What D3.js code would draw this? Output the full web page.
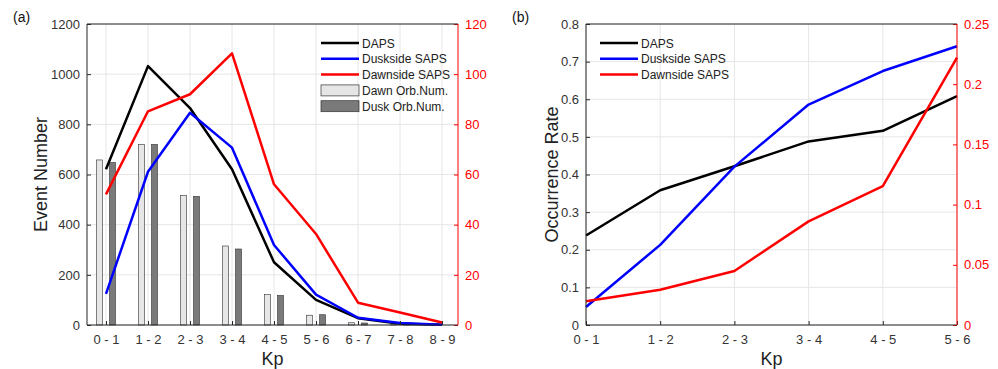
<!DOCTYPE html>
<html><head><meta charset="utf-8">
<script src="https://cdn.jsdelivr.net/npm/d3@7"></script>
<style>body{margin:0;background:#fff}svg{display:block}text{font-family:"Liberation Sans",Arial,sans-serif}</style>
</head><body>
<svg id="c" width="998" height="369"></svg>
<script>
const catsA = ["0 - 1","1 - 2","2 - 3","3 - 4","4 - 5","5 - 6","6 - 7","7 - 8","8 - 9"];
const dapsA = [621,1032,865,621,250,100,27,5,1];
const duskA = [124,611,846,707,319,121,29,8,1];
const dawnA = [52.1,85.2,92,108.3,56.1,36.3,8.9,5,1];
const dawnOrb = [658,720,517,315,121,39,9,1,0];
const duskOrb = [648,720,513,303,118,41,8,1,0];
const leftTicksA = [0,200,400,600,800,1000,1200];
const rightTicksA = [0,20,40,60,80,100,120];

const catsB = ["0 - 1","1 - 2","2 - 3","3 - 4","4 - 5","5 - 6"];
const dapsB = [0.238,0.358,0.422,0.488,0.516,0.608];
const duskB = [0.048,0.213,0.421,0.586,0.675,0.741];
const dawnB = [0.0197,0.0293,0.0449,0.0861,0.1154,0.222];
const leftTicksB = [0,0.1,0.2,0.3,0.4,0.5,0.6,0.7,0.8];
const rightTicksB = [0,0.05,0.1,0.15,0.2,0.25];

const svg = d3.select("#c");
const axisCol = "#262626", red = "#ff0000", grid = "#e6e6e6";
const yTop = 24, yBot = 325;

function panel(o){
  const g = svg.append("g");
  const x = d3.scaleLinear().domain(o.xdom).range([o.x0,o.x1]);
  const yL = d3.scaleLinear().domain([0,o.lmax]).range([yBot,yTop]);
  const yR = d3.scaleLinear().domain([0,o.rmax]).range([yBot,yTop]);
  g.selectAll(null).data(o.lt).join("line").attr("x1",o.x0).attr("x2",o.x1)
    .attr("y1",d=>yL(d)).attr("y2",d=>yL(d)).attr("stroke",grid).attr("stroke-width",1);
  g.selectAll(null).data(o.cats).join("line").attr("x1",(d,i)=>x(i)).attr("x2",(d,i)=>x(i))
    .attr("y1",yTop).attr("y2",yBot).attr("stroke",grid).attr("stroke-width",1);
  if (o.bars){
    const bw = 6, off = 6.5;
    o.bars.forEach((b,k)=>{
      g.selectAll(null).data(b.v).join("rect")
        .attr("x",(d,i)=>x(i)+(k===0?-off:off)-bw/2).attr("width",bw)
        .attr("y",d=>yL(d)).attr("height",d=>yBot-yL(d))
        .attr("fill",b.fill).attr("stroke",d=>d>0?"#333":"none").attr("stroke-width",0.6);
    });
  }
  const lineL = d3.line().x((d,i)=>x(i)).y(d=>yL(d));
  const lineR = d3.line().x((d,i)=>x(i)).y(d=>yR(d));
  o.lines.forEach(l=>{
    g.append("path").attr("d",(l.right?lineR:lineL)(l.v)).attr("fill","none")
      .attr("stroke",l.c).attr("stroke-width",2.5).attr("stroke-linejoin","round");
  });
  const ax = g.append("g").attr("transform",`translate(0,${yBot})`)
    .call(d3.axisBottom(x).tickValues(d3.range(o.cats.length)).tickFormat(i=>o.cats[i]).tickSizeInner(-4).tickSizeOuter(0).tickPadding(10));
  const al = g.append("g").attr("transform",`translate(${o.x0},0)`)
    .call(d3.axisLeft(yL).tickValues(o.lt).tickFormat(o.lf).tickSizeInner(-4).tickSizeOuter(0).tickPadding(7));
  const ar = g.append("g").attr("transform",`translate(${o.x1},0)`)
    .call(d3.axisRight(yR).tickValues(o.rt).tickFormat(o.rf).tickSizeInner(-4).tickSizeOuter(0).tickPadding(7));
  [ax,al].forEach(a=>{a.selectAll("path,line").attr("stroke",axisCol);a.selectAll("text").attr("fill","#333").style("font-size","13px");});
  ar.selectAll("path,line").attr("stroke",red); ar.selectAll("text").attr("fill",red).style("font-size","13px");
  ax.select(".domain").remove(); al.select(".domain").remove(); ar.select(".domain").remove();
  g.append("line").attr("x1",o.x0).attr("x2",o.x1).attr("y1",yBot).attr("y2",yBot).attr("stroke",axisCol);
  g.append("line").attr("x1",o.x0).attr("x2",o.x1).attr("y1",yTop).attr("y2",yTop).attr("stroke",axisCol);
  g.append("line").attr("x1",o.x0).attr("x2",o.x0).attr("y1",yTop).attr("y2",yBot).attr("stroke",axisCol);
  g.append("line").attr("x1",o.x1).attr("x2",o.x1).attr("y1",yTop).attr("y2",yBot).attr("stroke",red);
  g.append("text").attr("x",(o.x0+o.x1)/2).attr("y",365).attr("text-anchor","middle").style("font-size","18px").attr("fill","#222").text("Kp");
  g.append("text").attr("transform",`translate(${o.ylx},${(yTop+yBot)/2}) rotate(-90)`).attr("text-anchor","middle").style("font-size","18px").attr("fill","#222").text(o.ylab);
  g.append("text").attr("x",o.tx).attr("y",22).style("font-size","14px").attr("fill","#111").text(o.title);
  o.leg.forEach((e,i)=>{
    const yy = 43 + i*15.8;
    if (e.bar) g.append("rect").attr("x",o.lx).attr("y",yy-5.5).attr("width",38).attr("height",11).attr("fill",e.fill).attr("stroke","#333").attr("stroke-width",0.7);
    else g.append("line").attr("x1",o.lx).attr("x2",o.lx+38).attr("y1",yy).attr("y2",yy).attr("stroke",e.c).attr("stroke-width",2.5);
    g.append("text").attr("x",o.lx+41).attr("y",yy+4.5).style("font-size","12px").attr("fill","#222").text(e.t);
  });
}

panel({x0:87,x1:458,xdom:[-0.452,8.38],cats:catsA,lmax:1200,rmax:120,lt:leftTicksA,rt:rightTicksA,
  lf:d=>d,rf:d=>d,
  bars:[{v:dawnOrb,fill:"#e6e6e6"},{v:duskOrb,fill:"#7a7a7a"}],
  lines:[{v:dapsA,c:"#000"},{v:duskA,c:"#0000ff"},{v:dawnA,c:red,right:true}],
  ylab:"Event Number",ylx:47,title:"(a)",tx:13,lx:321,
  leg:[{t:"DAPS",c:"#000"},{t:"Duskside SAPS",c:"#0000ff"},{t:"Dawnside SAPS",c:red},{t:"Dawn Orb.Num.",bar:1,fill:"#e6e6e6"},{t:"Dusk Orb.Num.",bar:1,fill:"#7a7a7a"}]});

panel({x0:586,x1:957,xdom:[0,5],cats:catsB,lmax:0.8,rmax:0.25,lt:leftTicksB,rt:rightTicksB,
  lf:d=>d===0?"0":d3.format(".1f")(d),rf:d=>d===0?"0":String(+d.toFixed(2)),
  lines:[{v:dapsB,c:"#000"},{v:duskB,c:"#0000ff"},{v:dawnB,c:red,right:true}],
  ylab:"Occurrence Rate",ylx:558,title:"(b)",tx:512,lx:600,
  leg:[{t:"DAPS",c:"#000"},{t:"Duskside SAPS",c:"#0000ff"},{t:"Dawnside SAPS",c:red}]});
</script>
</body></html>
